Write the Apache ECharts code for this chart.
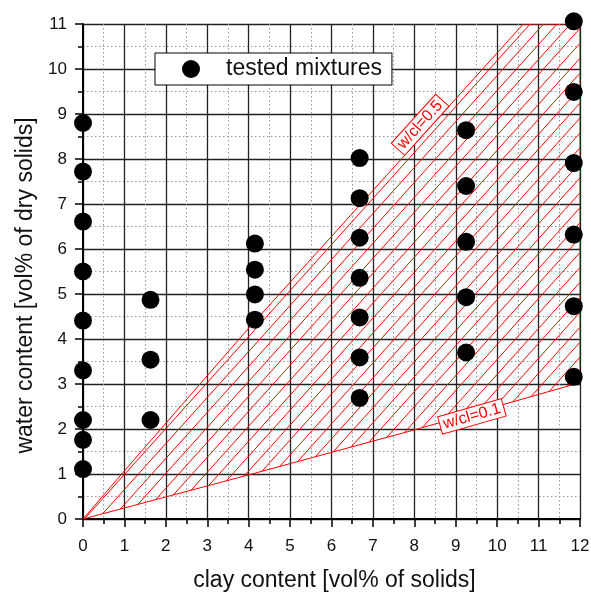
<!DOCTYPE html>
<html>
<head>
<meta charset="utf-8">
<script src="https://cdn.jsdelivr.net/npm/echarts@6/dist/echarts.min.js"></script>
<style>html,body{margin:0;padding:0;background:#fff}#c{width:591px;height:592px}</style>
</head>
<body>
<div id="c"></div>
<script>
// tested mixtures
const mixClay  = [0,0,0,0,0,0,0,0,0, 1.63,1.63,1.63, 4.15,4.15,4.15,4.15, 6.68,6.68,6.68,6.68,6.68,6.68,6.68, 9.25,9.25,9.25,9.25,9.25, 11.85,11.85,11.85,11.85,11.85,11.85];
const mixWater = [8.8,7.72,6.61,5.5,4.41,3.3,2.2,1.76,1.11, 4.87,3.54,2.2, 6.12,5.54,4.99,4.43, 8.02,7.13,6.25,5.36,4.48,3.59,2.69, 8.64,7.4,6.16,4.93,3.7, 11.06,9.49,7.91,6.32,4.73,3.16];
// w/cl = 0.5 boundary
const wc05Clay  = [0, 1, 4, 10.63];
const wc05Water = [0, 1.07, 4.24, 11];
// w/cl = 0.1 boundary
const wc01Clay  = [0, 4, 8, 12];
const wc01Water = [0, 0.98, 1.98, 3.03];
// region corner (top right of hatched area)
const cornerClay = [12];
const cornerWater = [11];
// boundary labels (box centres)
const labelText  = ['w/cl=0.5', 'w/cl=0.1'];
const labelClay  = [8.14, 9.39];
const labelWater = [8.76, 2.28];
const xTicks = [0,1,2,3,4,5,6,7,8,9,10,11,12];
const yTicks = [0,1,2,3,4,5,6,7,8,9,10,11];

const FONT = 'Arial, "Liberation Sans", sans-serif';
const chart = echarts.init(document.getElementById('c'), null, {renderer: 'canvas'});

const mixData = mixClay.map((c, i) => [c, mixWater[i]]);

const axisCommon = {
  min: 0, interval: 1,
  axisLine: {show: true, onZero: false, lineStyle: {color: '#000', width: 2}},
  axisTick: {show: true, inside: false, length: 8, lineStyle: {color: '#000', width: 1.5}},
  minorTick: {show: true, splitNumber: 2, length: 5, lineStyle: {color: '#000', width: 1.5}},
  splitLine: {show: true, lineStyle: {color: '#222', width: 1.3}},
  minorSplitLine: {show: true, lineStyle: {color: '#999', width: 1, type: [1.5, 2.5]}},
  axisLabel: {fontFamily: FONT, fontSize: 17, color: '#111'},
  nameLocation: 'middle',
  nameTextStyle: {fontFamily: FONT, fontSize: 23, color: '#111'}
};

// hatch lines clipped to polygon (pixel space)
function hatchLines(pts, angleDeg, spacing) {
  const th = angleDeg * Math.PI / 180;
  const d = [Math.cos(th), -Math.sin(th)];
  const n = [Math.sin(th), Math.cos(th)];
  const cs = pts.map(p => p[0] * n[0] + p[1] * n[1]);
  const cmin = Math.min.apply(null, cs), cmax = Math.max.apply(null, cs);
  const out = [];
  const start = Math.ceil(cmin / spacing) * spacing;
  for (let c = start; c <= cmax; c += spacing) {
    const hits = [];
    for (let i = 0; i < pts.length; i++) {
      const a = pts[i], b = pts[(i + 1) % pts.length];
      const ca = cs[i], cb = cs[(i + 1) % pts.length];
      if ((c >= ca && c < cb) || (c >= cb && c < ca)) {
        const t = (c - ca) / (cb - ca);
        const p = [a[0] + t * (b[0] - a[0]), a[1] + t * (b[1] - a[1])];
        hits.push({p: p, s: p[0] * d[0] + p[1] * d[1]});
      }
    }
    hits.sort((u, v) => u.s - v.s);
    for (let k = 0; k + 1 < hits.length; k += 2) out.push([hits[k].p, hits[k + 1].p]);
  }
  return out;
}

function segAngle(api, xs, ys, x) {
  let i = 0;
  while (i < xs.length - 2 && x > xs[i + 1]) i++;
  const a = api.coord([xs[i], ys[i]]);
  const b = api.coord([xs[i + 1], ys[i + 1]]);
  return Math.atan2(a[1] - b[1], b[0] - a[0]);
}

chart.setOption({
  animation: false,
  backgroundColor: '#fff',
  grid: {left: 83, right: 11, top: 24, bottom: 73, containLabel: false, outerBoundsMode: 'none'},
  xAxis: Object.assign({}, axisCommon, {
    type: 'value', max: 12, name: 'clay content [vol% of solids]', nameGap: 50,
    nameTextStyle: Object.assign({}, axisCommon.nameTextStyle, {padding: [0, 0, 0, 6]}),
    axisLabel: Object.assign({}, axisCommon.axisLabel, {margin: 19,
      formatter: v => xTicks.includes(v) ? String(v) : ''})
  }),
  yAxis: Object.assign({}, axisCommon, {
    type: 'value', max: 11, name: 'water content [vol% of dry solids]', nameGap: 46,
    nameTextStyle: Object.assign({}, axisCommon.nameTextStyle, {padding: [0, 28, 0, 0]}),
    axisLabel: Object.assign({}, axisCommon.axisLabel, {margin: 16,
      formatter: v => yTicks.includes(v) ? String(v) : ''})
  }),
  legend: {
    show: true, left: 155, top: 53, orient: 'horizontal',
    data: [{name: 'tested mixtures', icon: 'circle'}],
    backgroundColor: '#fff', borderColor: '#000', borderWidth: 1,
    padding: [4, 10, 4, 27],
    itemWidth: 18, itemHeight: 18,
    textStyle: {fontFamily: FONT, fontSize: 23, lineHeight: 24, color: '#111', padding: [0, 0, 0, 21]}
  },
  series: [
    {
      type: 'custom', name: 'region', z: 2, clip: true, silent: true,
      data: [[0, 0]],
      renderItem: function (params, api) {
        const pts = [];
        for (let i = 0; i < wc05Clay.length; i++) pts.push(api.coord([wc05Clay[i], wc05Water[i]]));
        pts.push(api.coord([cornerClay[0], cornerWater[0]]));
        for (let i = wc01Clay.length - 1; i >= 0; i--) pts.push(api.coord([wc01Clay[i], wc01Water[i]]));
        const children = hatchLines(pts, 48, 10).map(s => ({
          type: 'line',
          shape: {x1: s[0][0], y1: s[0][1], x2: s[1][0], y2: s[1][1]},
          style: {stroke: '#ff0000', lineWidth: 1}
        }));
        children.push({
          type: 'polygon', shape: {points: pts},
          style: {fill: 'none', stroke: '#ff0000', lineWidth: 1}
        });
        return {type: 'group', children: children};
      }
    },
    {
      type: 'custom', name: 'labels', z: 4, silent: true,
      data: labelText.map((t, i) => [labelClay[i], labelWater[i], i]),
      renderItem: function (params, api) {
        const i = api.value(2);
        const p = api.coord([api.value(0), api.value(1)]);
        const ang = i === 0 ? segAngle(api, wc05Clay, wc05Water, api.value(0))
                            : segAngle(api, wc01Clay, wc01Water, api.value(0));
        return {
          type: 'text', x: p[0], y: p[1], rotation: ang,
          style: {
            text: labelText[i], fill: '#ff0000', font: '16px ' + FONT,
            align: 'center', verticalAlign: 'middle',
            backgroundColor: '#fff', borderColor: '#ff0000', borderWidth: 1,
            padding: [1, 3, 0, 3]
          }
        };
      }
    },
    {
      type: 'scatter', name: 'tested mixtures', z: 5,
      symbol: 'circle', symbolSize: 18,
      itemStyle: {color: '#000', opacity: 1},
      data: mixData, clip: false
    }
  ]
});
</script>
</body>
</html>
